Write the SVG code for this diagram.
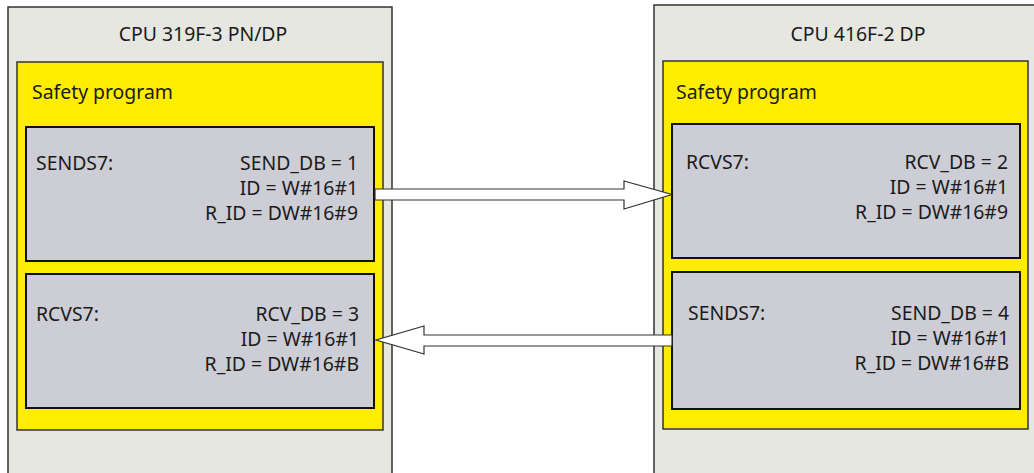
<svg xmlns="http://www.w3.org/2000/svg" width="1034" height="473" viewBox="0 0 1034 473">
<style>
.cpu{fill:#e7e7e2;stroke:#333;stroke-width:1.5}
.yel{fill:#ffed00;stroke:#333;stroke-width:1.5}
.blk{fill:#cdcdd6;stroke:#111;stroke-width:2}
.arr{fill:#fff;stroke:#333;stroke-width:1.2;stroke-linejoin:miter}
text{font-family:"Noto Sans","Open Sans","DejaVu Sans",sans-serif;font-size:19.4px;fill:#1a1a1a}
.r{text-anchor:end}
.m{text-anchor:middle}
</style>
<rect width="1034" height="473" fill="#fff"/>
<g id="cpu319">
<rect class="cpu" x="8" y="7" width="384" height="480"/>
<text class="m" x="203" y="41">CPU 319F-3 PN/DP</text>
</g>
<g id="cpu416">
<rect class="cpu" x="654" y="5" width="400" height="480"/>
<text class="m" x="858" y="41">CPU 416F-2 DP</text>
</g>
<g id="safety-left">
<rect class="yel" x="17" y="62" width="366" height="368"/>
<text x="32" y="99">Safety program</text>
</g>
<g id="safety-right">
<rect class="yel" x="663" y="61" width="365" height="368"/>
<text x="676" y="99">Safety program</text>
</g>
<g id="sends7-left">
<rect class="blk" x="26" y="127" width="348" height="134"/>
<text x="36" y="170">SENDS7:</text>
<text class="r" x="358" y="170">SEND_DB = 1</text>
<text class="r" x="358" y="195">ID = W#16#1</text>
<text class="r" x="358" y="220">R_ID = DW#16#9</text>
</g>
<g id="rcvs7-left">
<rect class="blk" x="26" y="274" width="348" height="134"/>
<text x="36" y="321">RCVS7:</text>
<text class="r" x="359" y="321">RCV_DB = 3</text>
<text class="r" x="359" y="346">ID = W#16#1</text>
<text class="r" x="359" y="371">R_ID = DW#16#B</text>
</g>
<g id="rcvs7-right">
<rect class="blk" x="672" y="124" width="348" height="134"/>
<text x="686" y="169">RCVS7:</text>
<text class="r" x="1008" y="169">RCV_DB = 2</text>
<text class="r" x="1008" y="194">ID = W#16#1</text>
<text class="r" x="1008" y="219">R_ID = DW#16#9</text>
</g>
<g id="sends7-right">
<rect class="blk" x="672" y="272" width="348" height="137"/>
<text x="688" y="320">SENDS7:</text>
<text class="r" x="1009" y="320">SEND_DB = 4</text>
<text class="r" x="1009" y="345">ID = W#16#1</text>
<text class="r" x="1009" y="370">R_ID = DW#16#B</text>
</g>
<g id="connectors">
<polygon class="arr" points="375,189 624,189 624,181 672,194.5 624,209 624,200 375,200"/>
<polygon class="arr" points="672,335 424,335 424,326 376,340 424,354 424,346 672,346"/>
</g>
</svg>
